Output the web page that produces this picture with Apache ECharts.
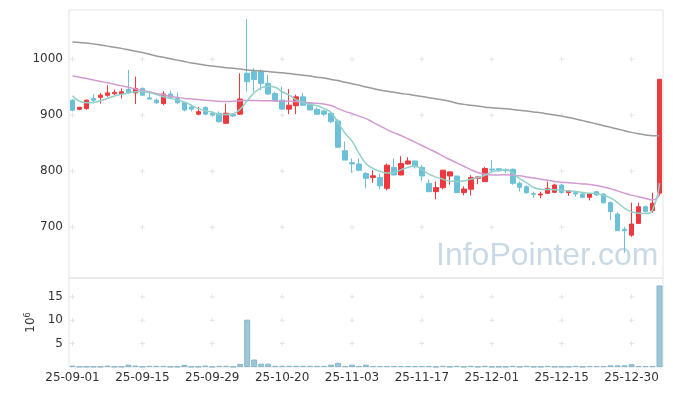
<!DOCTYPE html>
<html><head><meta charset="utf-8">
<script src="https://cdn.jsdelivr.net/npm/echarts@6/dist/echarts.min.js"></script>
<style>html,body{margin:0;padding:0;background:#fff}#c{width:673px;height:396px}</style>
</head><body><div id="c"></div>
<script>
const dates = ["25-09-01","25-09-02","25-09-03","25-09-04","25-09-05","25-09-08","25-09-09","25-09-10","25-09-11","25-09-12",
"25-09-15","25-09-16","25-09-17","25-09-18","25-09-19","25-09-22","25-09-23","25-09-24","25-09-25","25-09-26",
"25-09-29","25-09-30","25-10-01","25-10-02","25-10-10","25-10-13","25-10-14","25-10-15","25-10-16","25-10-17",
"25-10-20","25-10-21","25-10-22","25-10-23","25-10-24","25-10-27","25-10-28","25-10-29","25-10-30","25-10-31",
"25-11-03","25-11-04","25-11-05","25-11-06","25-11-07","25-11-10","25-11-11","25-11-12","25-11-13","25-11-14",
"25-11-17","25-11-18","25-11-19","25-11-20","25-11-21","25-11-24","25-11-25","25-11-26","25-11-27","25-11-28",
"25-12-01","25-12-02","25-12-03","25-12-04","25-12-05","25-12-08","25-12-09","25-12-10","25-12-11","25-12-12",
"25-12-15","25-12-16","25-12-17","25-12-18","25-12-19","25-12-22","25-12-23","25-12-24","25-12-26","25-12-29",
"25-12-30","26-01-02","26-01-05","26-01-06","26-01-07"];
const opens = [927,910.7,912,930,932,935.7,938.6,938,946,940,
948,931,927,921,938,930,922.5,915,902,914,
903.6,903.6,885.7,902,902,975,978,979,957,939,
927,911,917,933,921,910.7,907.7,903.6,889.9,836.8,
815.4,813,796,789,789,769.6,807,793.4,813,818.4,
807,778.6,763.6,770.7,791.6,791.6,762,768,787.5,781.5,
804,804.6,803,803.6,778.6,772.5,760,757.7,760.7,762.5,
775.5,762,761.8,759.5,753.6,763.6,759.5,744,723.8,696.4,
686,707,736.8,729.6,761];
const closes = [909,914.3,927,927,936,940,941,942,940,948,
936,929,922.5,938,932,922.5,909.5,911,906.5,902,
900.5,888.6,903.6,898.8,929,960,964,957,938,925.5,
911,918,933,918,909.5,902,902,888.6,843,820,
813,802,787.5,792,774,811,793.4,814,818.4,808,
791.6,763.6,771,802,799,762,768.4,789,790,805,
802.4,801,801,778.6,771.4,761.8,759,759.5,769.6,775.5,
762,765,759.5,753.6,759.5,757.7,744,728,694,694,
705.9,736.8,727.9,743,964.3];
const lows = [907,909,910,921,921,933,936,930,939,920,
934,928.6,920,918,930,920,907,907,900,900,
898,887,884.5,897,900.5,942,942,945,936,924,
909.5,902,902,917,909,900.5,899,886,842,820,
797.5,800,769.6,779.6,768,766,793,793,812,805,
783,763,750,768,776,761,757,757,777,781.5,
799,799,797,776,764,760,753,752,759.5,761,
760,756,755,752,748,756,742,713,694,654.6,
683,706,727,726,757];
const highs = [929,915,928,937.5,940,954,946,948,981,969,
950,940,930,943,944,941,924,919,915,916,
907,907,921,904,975,1072,984,982,972,942,
951,947,937,940,923,914,910,906,893,853,
823,823,799,802,796,814,823,827,825,818.4,
811,785,781.5,802,799,791.6,773,793,791,808,
820,806,805,805,782,775,763.6,763.6,781.5,778,
778,766.6,765,762,760,765,761,746,727,701,
744,744,739,762,964.3];
const volumes = [0.3,0.08,0.08,0.08,0.08,0.3,0.08,0.08,0.5,0.3,
0.08,0.25,0.25,0.25,0.08,0.08,0.45,0.08,0.08,0.3,
0.08,0.25,0.25,0.08,0.65,10.1,1.6,0.7,0.7,0.25,
0.25,0.25,0.25,0.25,0.25,0.25,0.25,0.5,0.9,0.2,
0.5,0.2,0.5,0.2,0.2,0.2,0.2,0.2,0.2,0.2,
0.2,0.2,0.08,0.25,0.08,0.25,0.08,0.25,0.08,0.25,
0.08,0.08,0.08,0.25,0.08,0.25,0.08,0.08,0.25,0.08,
0.08,0.08,0.25,0.08,0.2,0.2,0.2,0.35,0.35,0.35,
0.6,0.2,0.2,0.2,17.4];
const ma5 = [935,925,922.5,923,926,930,934.5,937.5,940,942,
942,940.5,937,933,930,927.5,924,918,912,908,
905.5,902,901.5,903,911,926,940,949,952,950,
942,936,928,923,919.5,917,912,905,887,868,
854,832,814,805,800,797,798,802.5,807,809.5,
803,795,790,786,782.5,782,783,786,789,793,
799,802,803,797,787,779.5,771,768,767.5,767,
766,765,764,762,761,760,757,752.5,744,734,
728,725,724.5,731,779];
const ma20 = [970,968,965.5,963,960.5,958,955.5,952.5,950,947,
944.5,942,939,936.5,934,932,930,929,928,927,
926,925,924.5,925,926,926.5,926.5,926,926,925.5,
925,925,924.5,923.5,922.5,921.5,920,917.5,912,907,
903,898.5,894,887.5,881,874.5,869,864,858,852,
846,840,834,827,821,815,809,803,798,795,
793.5,793.5,794,793,792,790,788,786,784,782,
780.5,779.5,778.5,777.5,776.5,774.5,772,769,765,761,
757.5,754.5,751.5,749,758];
const ma60 = [1031,1030,1029,1027.5,1025.5,1023.5,1021.5,1019.5,1017,1014.5,
1012,1009,1006,1003.5,1001,998.5,996,993.5,991.5,989.5,
988,986.5,985,984,982.5,981,980,979,978,977,
976,974.5,973,971.5,970,968,966.5,964,962,959,
956.5,953.5,950.5,948,945,943,941,939,937.5,935.5,
933.5,931.5,929.5,927.5,925,921.5,919.5,918,916.5,914.5,
913.5,912.5,911.5,910.5,909,907.5,906,904.5,902.5,900.5,
898.5,896,893.5,890.5,887.5,884.5,881.5,878.5,875.5,872.5,
869.5,867,865,863.5,863.5];
const priceTicks = [700,800,900,1000];
const volumeTicks = [5,10,15];
const labelEvery = 10;

const candleData = opens.map((o,i)=>[o, closes[i], lows[i], highs[i]]);
const labelIdx = dates.map((d,i)=>i).filter(i=>i%labelEvery===0);
const plusPath = 'path://M2,0H3V2H5V3H3V5H2V3H0V2H2Z';
const plusMain = [], plusVol = [];
labelIdx.forEach(i=>{ priceTicks.forEach(v=>plusMain.push([i,v])); volumeTicks.forEach(v=>plusVol.push([i,v])); });

const chart = echarts.init(document.getElementById('c'), null, {renderer:'canvas'});
const font = 'DejaVu Sans';
chart.setOption({
  animation:false,
  backgroundColor:'#fff',
  grid:[
    {left:69, right:10, top:10, height:268, show:true, borderColor:'#e4e4e4', borderWidth:1},
    {left:69, right:10, top:278, height:89, show:true, borderColor:'#e4e4e4', borderWidth:1}
  ],
  xAxis:[
    {type:'category', gridIndex:0, data:dates, boundaryGap:true, axisLine:{show:false}, axisTick:{show:false}, axisLabel:{show:false}, splitLine:{show:false}},
    {type:'category', gridIndex:1, data:dates, boundaryGap:true, axisLine:{show:false}, axisTick:{show:false},
     axisLabel:{interval:labelEvery-1, color:'#333', fontSize:12, fontFamily:font, margin:5}, splitLine:{show:false}}
  ],
  yAxis:[
    {type:'value', gridIndex:0, min:609.5, max:1088, scale:true, axisLine:{show:false}, axisTick:{show:false},
     axisLabel:{color:'#333', fontSize:12, fontFamily:font, margin:6, showMinLabel:false, showMaxLabel:false, formatter:v=>String(v)}, splitLine:{show:false}},
    {type:'value', gridIndex:1, min:0, max:19, interval:5, axisLine:{show:false}, axisTick:{show:false},
     axisLabel:{color:'#333', fontSize:12, fontFamily:font, margin:6, showMinLabel:false, showMaxLabel:false}, splitLine:{show:false},
     name:'{a|10}{b|6}', nameLocation:'middle', nameRotate:90, nameGap:31,
     nameTextStyle:{rich:{a:{fontSize:12, fontFamily:font, color:'#333', lineHeight:14}, b:{fontSize:8, fontFamily:font, color:'#333', verticalAlign:'top', lineHeight:14}}}}
  ],
  graphic:[{type:'text', left:436, top:240, z:0, style:{text:'InfoPointer.com', font:'32px "Liberation Sans"', fill:'#c9dae6'}}],
  series:[
    {type:'scatter', xAxisIndex:0, yAxisIndex:0, data:plusMain, symbol:plusPath, symbolSize:5, itemStyle:{color:'#dddddd'}, z:1, silent:true},
    {type:'scatter', xAxisIndex:1, yAxisIndex:1, data:plusVol, symbol:plusPath, symbolSize:5, itemStyle:{color:'#dddddd'}, z:1, silent:true},
    {type:'line', name:'MA60', xAxisIndex:0, yAxisIndex:0, data:ma60, smooth:true, showSymbol:false, lineStyle:{color:'#9a9a9a', width:1.5}, z:3},
    {type:'line', name:'MA20', xAxisIndex:0, yAxisIndex:0, data:ma20, smooth:true, showSymbol:false, lineStyle:{color:'#d29ad0', width:1.5}, z:3},
    {type:'line', name:'MA5', xAxisIndex:0, yAxisIndex:0, data:ma5, smooth:true, showSymbol:false, lineStyle:{color:'#93d1c8', width:1.5}, z:3},
    {type:'candlestick', xAxisIndex:0, yAxisIndex:0, data:candleData, barWidth:5, z:2,
     itemStyle:{color:'#ee3a3f', color0:'#6cc1d8', borderColor:'#ee3a3f', borderColor0:'#6cc1d8', borderWidth:1}},
    {type:'bar', xAxisIndex:1, yAxisIndex:1, data:volumes, barWidth:6, itemStyle:{color:'#9ec6d6', borderColor:'#86b6c9', borderWidth:1}, z:2}
  ]
});
</script></body></html>
